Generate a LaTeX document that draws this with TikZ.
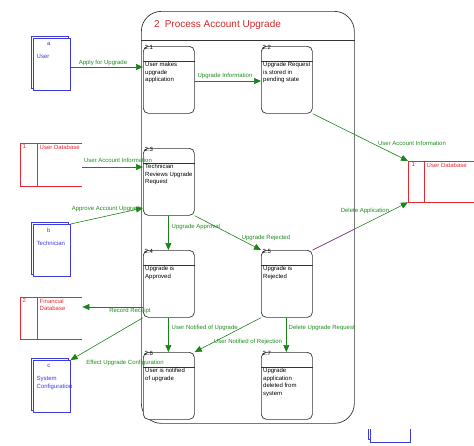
\documentclass[tikz,border=0pt]{standalone}
\usepackage{fontspec}
\setmainfont{Liberation Sans}
\usetikzlibrary{arrows.meta,calc,shadows}
\definecolor{flowgreen}{RGB}{25,130,25}
\definecolor{lblgreen}{RGB}{30,140,30}
\definecolor{entblue}{RGB}{60,60,220}
\definecolor{storered}{RGB}{230,40,50}
\definecolor{titlered}{RGB}{210,40,40}
\definecolor{delmag}{RGB}{200,40,200}
\newcommand\proc[4]{%
  \node[procbox] (#1) at (#2) {};
  \draw[procline] ([yshift=-15pt]#1.north west) -- ([yshift=-15pt]#1.north east);
  \node[idtext] at ([xshift=1pt,yshift=1pt]#1.north west) {#3};
  \node[ptext] at ([xshift=1pt,yshift=-15pt]#1.north west) {#4};
}
\newcommand\entity[4]{%
  \node[entitybox] (#1) at (#2) {};
  \node[etext] at ([xshift=-3pt,yshift=-6pt]#1.north) {#3};
  \node[etext, anchor=north west, align=left] at ([xshift=3pt,yshift=-16pt]#1.north west) {#4};
}
\begin{document}
\begin{tikzpicture}[x=1pt,y=-1pt, font=\fontsize{6}{7.5}\selectfont,
  procbox/.style={draw=black!80, line width=0.7pt, rounded corners=5pt, fill=white,
    minimum width=51pt, minimum height=67pt, inner sep=0pt, anchor=north west},
  procline/.style={draw=black!80, line width=0.6pt},
  idtext/.style={anchor=north west, inner sep=0.5pt, font=\fontsize{6}{7}\selectfont},
  ptext/.style={anchor=north west, align=left, inner sep=1pt},
  entitybox/.style={draw=entblue, fill=white, line width=0.6pt, minimum width=37pt,
    minimum height=52pt, inner sep=0pt, anchor=north west,
    copy shadow={shadow xshift=-2pt, shadow yshift=2pt, draw=entblue, fill=white}},
  etext/.style={text=entblue, inner sep=0.5pt},
  storebox/.style={inner sep=0pt, minimum width=62pt, anchor=north west},
  storeline/.style={draw=storered, line width=0.6pt},
  stext/.style={text=storered, inner sep=0.5pt, anchor=north west, align=left},
  flow/.style={draw=flowgreen, line width=0.6pt, -{Triangle[length=7pt,width=6pt]}},
  lbl/.style={text=lblgreen, inner sep=0.5pt}]
\useasboundingbox (0,0) rectangle (474,445);

% process boundary
\node[draw=black!80, line width=0.7pt, rounded corners=20pt, minimum width=213pt,
  minimum height=412pt, inner sep=0pt, anchor=north west] (big) at (141,11) {};
\draw[procline] (big.west |- 0,40) -- (big.east |- 0,40);
\node[anchor=west, text=titlered, inner sep=0pt, font=\fontsize{10}{12}\selectfont]
  (title) at (154,25) {2\hspace{5pt}Process Account Upgrade};

% processes
\proc{p21}{143,46}{2.1}{User makes\\upgrade\\application}
\proc{p22}{261,46}{2.2}{Upgrade Request\\is stored in\\pending state}
\proc{p23}{143,148}{2.3}{Technician\\Reviews Upgrade\\Request}
\proc{p24}{143,250}{2.4}{Upgrade is\\Approved}
\proc{p25}{261,250}{2.5}{Upgrade is\\Rejected}
\proc{p26}{143,352}{2.6}{User is notified\\of upgrade}
\proc{p27}{261,352}{2.7}{Upgrade\\application\\deleted from\\system}

% external entities
\entity{user}{33,38}{a}{User}
\entity{tech}{33,224}{b}{Technician}
\entity{sysc}{33,360}{c}{System\\Configuration}

% fragment at bottom right
\draw[entblue, line width=0.6pt] (368,429) -- (368,439) -- (370,439);
\draw[entblue, line width=0.6pt] (370,429) -- (370,442) -- (410,442) -- (410,429);

% data stores
\node[storebox, minimum height=43pt] (udbl) at (20,143) {};
\draw[storeline] (udbl.north east) -- (udbl.north west) -- (udbl.south west) -- (udbl.south east);
\draw[storeline] ([xshift=17pt]udbl.north west) -- ([xshift=17pt]udbl.south west);
\node[stext] at ([xshift=2pt,yshift=-1pt]udbl.north west) {1};
\node[stext] at ([xshift=19pt,yshift=-1pt]udbl.north west) {User Database};

\node[storebox, minimum height=42pt] (fdb) at (20,297) {};
\draw[storeline] (fdb.north east) -- (fdb.north west) -- (fdb.south west) -- (fdb.south east);
\draw[storeline] ([xshift=17pt]fdb.north west) -- ([xshift=17pt]fdb.south west);
\node[stext] at ([xshift=2pt,yshift=-1pt]fdb.north west) {2};
\node[stext] at ([xshift=19pt,yshift=-1pt]fdb.north west) {Financial\\Database};

\node[storebox, minimum width=70pt, minimum height=41pt] (udbr) at (408,161) {};
\draw[storeline] (udbr.north east) -- (udbr.north west) -- (udbr.south west) -- (udbr.south east);
\draw[storeline] ([xshift=16pt]udbr.north west) -- ([xshift=16pt]udbr.south west);
\node[stext] at ([xshift=3pt,yshift=-1pt]udbr.north west) {1};
\node[stext] at ([xshift=18pt,yshift=-1pt]udbr.north west) {User Database};

% flows
\draw[flow] (user.east |- 0,67) -- (p21.west |- 0,67);
\draw[flow] (p21.east |- 0,81) -- (p22.west |- 0,81);
\draw[flow] (p22.south east) -- (udbr.north west);
\draw[flow] (udbl.east |- 0,167) -- (p23.west |- 0,167);
\draw[flow] (tech.north east) -- (p23.west |- 0,208);
\coordinate (a23) at ([xshift=-0.5pt]p23.south);
\draw[flow] (a23) -- (a23 |- p24.north);
\draw[flow] (p23.south east) -- (p25.north west);
\draw[flow] (p25.north east) -- (udbr.south west);
\draw[delmag, line width=0.6pt] (p25.north east) -- ($(p25.north east)!0.44!(udbr.south west)$);
\draw[flow] (p24.west |- 0,307) -- (fdb.east |- 0,307);
\draw[flow] (p24.south west) -- (sysc.north east);
\draw[flow] (a23 |- p24.south) -- (a23 |- p26.north);
\draw[flow] (p25.south west) -- (p26.north east);
\draw[flow] ([xshift=-0.5pt]p25.south) -- ([xshift=-0.5pt]p27.north);

% flow labels
\node[lbl] (l1) at (103,63) {Apply for Upgrade};
\node[lbl] (l2) at (225,76) {Upgrade Information};
\node[lbl] (l3) at (412,143) {User Account Information};
\node[lbl] (l4) at (118,160.5) {User Account Information};
\node[lbl] (l5) at (107,209) {Approve Account Upgrade};
\node[lbl, anchor=west] (l6) at (171,227) {Upgrade Approval};
\node[lbl] (l7) at (266,238) {Upgrade Rejected};
\node[lbl] (l8) at (365,211) {Delete Application};
\node[lbl] (l9) at (130,311) {Record Receipt};
\node[lbl] (l10) at (125,363) {Effect Upgrade Configuration};
\node[lbl, anchor=west] (l11) at (171,328) {User Notified of Upgrade};
\node[lbl] (l12) at (248,342) {User Notified of Rejection};
\node[lbl, anchor=west] (l13) at (288,328) {Delete Upgrade Request};
\end{tikzpicture}
\end{document}
